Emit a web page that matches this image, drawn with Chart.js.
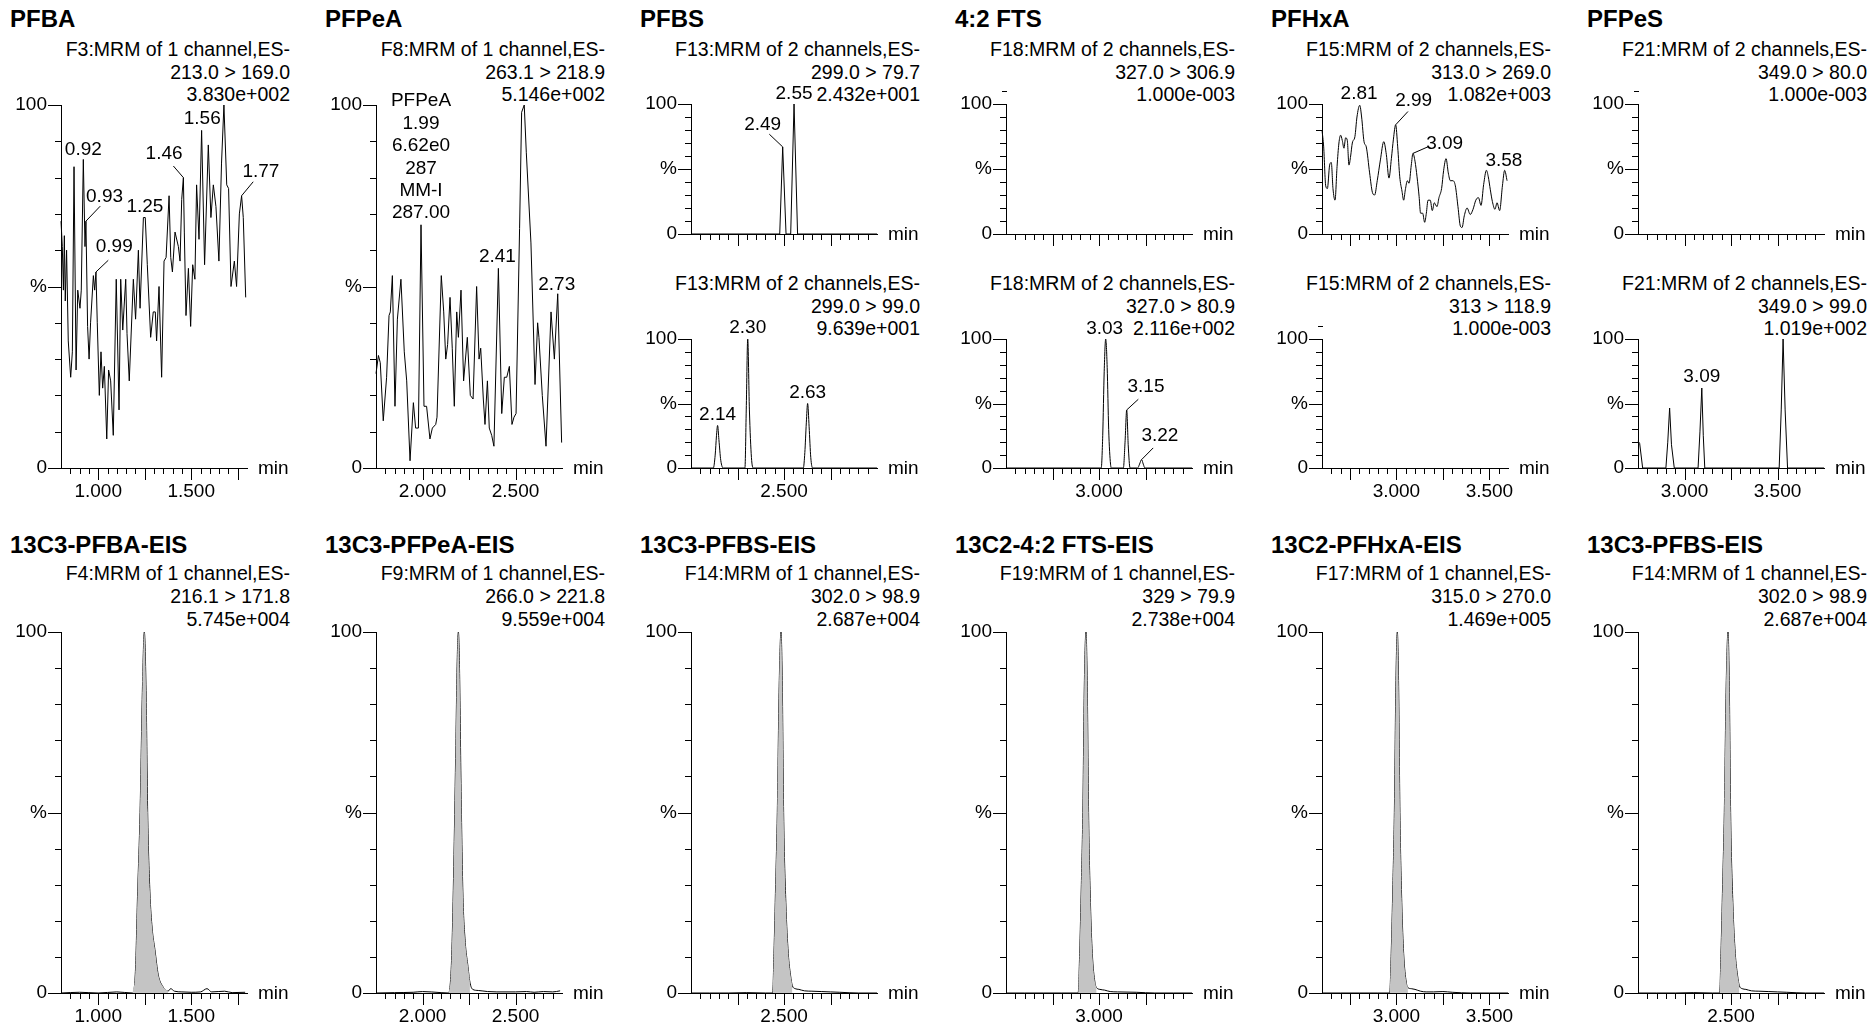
<!DOCTYPE html>
<html>
<head>
<meta charset="utf-8">
<script src="https://cdn.jsdelivr.net/npm/chart.js@4.4.1/dist/chart.umd.min.js"></script>
<style>
body { margin:0; background:#fff; width:1870px; height:1026px; position:relative; overflow:hidden;
       font-family:"Liberation Sans", Arial, sans-serif; color:#000; }
.title { position:absolute; font-weight:bold; font-size:24px; line-height:28px; white-space:nowrap; }
.head { position:absolute; font-size:19.5px; text-align:right; white-space:nowrap; width:300px; }
canvas { position:absolute; }
</style>
</head>
<body>
<script>
// ---- data (retention time in min, intensity in %) ----
var pfbaTime = [0.800,0.807,0.813,0.818,0.823,0.830,0.839,0.852,0.861,0.870,0.881,0.890,0.902,0.909,0.920,0.929,0.934,0.943,0.951,0.959,
  0.974,0.981,0.988,0.995,1.006,1.015,1.024,1.033,1.046,1.056,1.067,1.081,1.097,1.112,1.121,1.132,1.141,1.148,1.155,1.167,
  1.189,1.201,1.216,1.225,1.243,1.253,1.264,1.282,1.296,1.307,1.314,1.327,1.341,1.354,1.365,1.381,1.390,1.399,1.413,1.431,
  1.440,1.449,1.458,1.463,1.472,1.485,1.497,1.508,1.520,1.529,1.542,1.556,1.572,1.592,1.606,1.619,1.633,1.649,1.663,1.676,
  1.691,1.701,1.714,1.732,1.744,1.759,1.771,1.780,1.793];
var pfbaPct = [68,61,49,64,46,60,35,25,32,83,27,49,44,49,85,61,68,39,30,40,
  53,49,54,40,20,32,22,28,8,27,24,9,52,16,52,38,46,52,37,24,
  52,41,60,44,69,69,56,36,43,43,35,50,25,57,58,75,58,54,65,61,
  57,74,80,65,42,55,39,56,52,78,63,93,56,89,69,78,72,57,84,100,
  78,77,50,57,50,70,75,69,47];
var pfbaPeakTimes = [0.920, 0.934, 0.988, 1.243, 1.458, 1.556, 1.771];
var pfbaPeakLabels = ['0.92', '0.93', '0.99', '1.25', '1.46', '1.56', '1.77'];

var pfpeaTime = [1.750,1.763,1.773,1.789,1.807,1.820,1.827,1.838,1.852,1.865,1.884,1.902,1.915,1.933,1.951,1.963,1.978,1.992,2.008,2.022,
  2.040,2.053,2.071,2.078,2.101,2.114,2.125,2.135,2.148,2.160,2.171,2.184,2.193,2.207,2.221,2.241,2.257,2.272,2.291,2.304,
  2.313,2.327,2.336,2.349,2.359,2.372,2.384,2.408,2.426,2.440,2.453,2.467,2.481,2.492,2.503,2.522,2.533,2.547,2.558,2.583,
  2.605,2.619,2.626,2.644,2.664,2.691,2.709,2.727,2.748];
var pfpeaPct = [26,31,29,13,25,42,43,53,17,41,52,32,24,2,18,11,11,67,17,17,
  8,11,12,14,53,43,30,34,47,33,17,43,36,49,24,36,20,19,50,30,
  33,19,12,24,11,9,6,55,15,25,25,28,12,14,15,66,98,100,87,62,
  23,40,36,20,6,43,30,48,7];
var pfpeaPeakTimes = [1.992, 2.408, 2.727];
var pfpeaPeakLabels = ['PFPeA\n1.99\n6.62e0\n287\nMM-I\n287.00', '2.41', '2.73'];

var pfbsATime = [2.000, 2.477, 2.493, 2.511, 2.536, 2.554, 2.573, 3.000];
var pfbsAPct  = [0, 0, 67, 0, 0, 100, 0, 0];
var pfbsAPeakTimes = [2.493, 2.554];
var pfbsAPeakLabels = ['2.49', '2.55'];

var pfbsBTime = [2.000, 2.120, 2.130, 2.137, 2.143, 2.150, 2.160, 2.174, 2.290, 2.297, 2.305, 2.314, 2.325, 2.335,
  2.604, 2.612, 2.620, 2.627, 2.635, 2.644, 2.654, 3.000];
var pfbsBPct  = [0, 0, 10, 25, 33, 22, 6, 0, 0, 45, 100, 45, 8, 0,
  0, 12, 35, 50, 32, 8, 0, 0];
var pfbsBPeakTimes = [2.143, 2.305, 2.627];
var pfbsBPeakLabels = ['2.14', '2.30', '2.63'];

var ftsBTime = [2.500, 3.012, 3.020, 3.028, 3.036, 3.044, 3.052, 3.062, 3.068,
  3.131, 3.140, 3.149, 3.157, 3.167, 3.208, 3.218, 3.229, 3.238, 3.247, 3.500];
var ftsBPct  = [0, 0, 25, 75, 100, 78, 30, 3, 0,
  0, 20, 45, 18, 0, 0, 3, 6.5, 3, 0, 0];
var ftsBPeakTimes = [3.036, 3.149, 3.229];
var ftsBPeakLabels = ['3.03', '3.15', '3.22'];

var pfhxaATime = [2.600,2.609,2.620,2.629,2.641,2.650,2.659,2.670,2.681,2.691,
  2.700,2.709,2.718,2.727,2.736,2.745,2.754,2.763,2.777,2.788,
  2.803,2.813,2.826,2.838,2.856,2.871,2.883,2.897,2.914,2.932,
  2.946,2.960,2.973,2.984,2.996,3.007,3.018,3.030,3.039,3.048,
  3.059,3.068,3.080,3.089,3.100,3.111,3.122,3.130,3.141,3.152,
  3.161,3.170,3.182,3.193,3.204,3.218,3.229,3.243,3.254,3.267,
  3.279,3.290,3.304,3.317,3.331,3.344,3.353,3.365,3.380,3.397,
  3.412,3.427,3.441,3.455,3.469,3.484,3.494,3.505,3.516,3.530,
  3.541,3.555,3.570,3.582,3.595];
var pfhxaAPct = [80,67,37,35,53,55,35,26,52,70,
  76,72,66,74,72,53,60,70,75,90,
  99,90,71,67,47,32,30,41,57,71,
  61,43,58,73,84,67,44,33,26,34,
  41,39,53,62,56,44,29,16,16,9,
  16,26,26,18,24,21,28,35,49,58,
  47,41,41,37,21,6,5,14,20,15,
  19,26,28,22,38,49,44,34,25,19,
  24,18,37,49,41];
var pfhxaAPeakTimes = [2.803, 2.996, 3.089, 3.582];
var pfhxaAPeakLabels = ['2.81', '2.99', '3.09', '3.58'];

var pfpesBTime = [2.750, 2.759, 2.775, 2.900, 2.910, 2.920, 2.930, 2.945, 3.073, 3.083, 3.093, 3.101, 3.109,
  3.509, 3.520, 3.530, 3.541, 3.554, 3.750];
var pfpesBPct  = [21, 19, 0, 0, 20, 46.5, 18, 0, 0, 28, 62, 25, 0,
  0, 45, 100, 45, 0, 0];
var pfpesBPeakTimes = [3.093];
var pfpesBPeakLabels = ['3.09'];

// internal standards (filled area = integration window)
var pfbaEisTime = [0.800,0.900,1.000,1.100,1.185,1.200,1.212,1.225,1.238,1.248,1.258,1.266,1.278,1.290,1.305,1.323,1.345,1.375,
  1.390,1.410,1.450,1.500,1.550,1.585,1.610,1.680,1.720,1.790];
var pfbaEisPct  = [0,0.2,0,0.3,0,6,28,50,85,100,82,50,28,18,12,5,2,0.5,1.2,0.5,0.3,0.2,0.3,1.2,0.3,0.5,0.1,0.2];
var pfbaEisArea = [1.185, 1.375];

var pfpeaEisTime = [1.750,1.850,1.950,2.000,2.100,2.140,2.150,2.158,2.168,2.178,2.187,2.193,2.199,2.207,2.217,2.230,2.243,2.255,
  2.270,2.300,2.350,2.400,2.500,2.560,2.600,2.650,2.700,2.740];
var pfpeaEisPct  = [0,0.1,0.2,0.4,0.1,0,3,12,35,65,93,100,90,58,28,14,8,3,1,0.7,0.4,0.3,0.3,0.4,0.2,0.4,0.3,0.6];
var pfpeaEisArea = [2.140, 2.260];

var pfbsEisTime = [2.000,2.100,2.200,2.300,2.400,2.439,2.446,2.455,2.464,2.474,2.484,2.491,2.498,2.510,2.523,2.535,2.545,
  2.560,2.580,2.610,2.650,2.700,2.750,2.800,2.900,3.000];
var pfbsEisPct  = [0,0,0,0.1,0,0,11,30,50,85,100,85,50,25,11,5,2,1.2,1,0.6,0.5,0.4,0.3,0.2,0,0];
var pfbsEisArea = [2.439, 2.550];

var ftsEisTime = [2.500,2.600,2.700,2.800,2.888,2.896,2.905,2.913,2.921,2.930,2.937,2.944,2.954,2.964,2.978,2.987,
  3.005,3.030,3.060,3.100,3.200,3.300,3.400,3.500];
var ftsEisPct  = [0,0,0,0,0,11,30,50,85,100,85,50,25,11,3,1.5,1,0.8,0.4,0.3,0.2,0,0,0];
var ftsEisArea = [2.888, 2.987];

var pfhxaEisTime = [2.600,2.700,2.800,2.900,2.964,2.972,2.981,2.989,2.997,3.005,3.012,3.019,3.029,3.039,3.053,3.062,
  3.080,3.100,3.130,3.160,3.200,3.250,3.300,3.400,3.500,3.600];
var pfhxaEisPct  = [0,0,0,0,0,11,30,50,85,100,85,50,25,11,3,1.5,1.2,1,0.5,0.3,0.3,0.4,0.2,0,0,0];
var pfhxaEisArea = [2.964, 3.062];

// x ranges and labelled ticks
var pfbaRange = [0.80, 1.80], pfbaTicks = [1.0, 1.5];
var pfpeaRange = [1.75, 2.75], pfpeaTicks = [2.0, 2.5];
var pfbsRange = [2.00, 3.00], pfbsTicks = [2.5];
var ftsRange = [2.50, 3.50], ftsTicks = [3.0];
var pfhxaRange = [2.60, 3.60], pfhxaTicks = [3.0, 3.5];
var pfpesRange = [2.75, 3.75], pfpesTicks = [3.0, 3.5];

// ---- layout / style ----
var colX = [0, 315, 630, 945, 1261, 1577];
var kinds = {
  tall:  { top: 105, bottom: 468 },
  upper: { top: 104, bottom: 234 },
  lower: { top: 339, bottom: 468 },
  eis:   { top: 632, bottom: 993 }
};
// label offsets from the peak apex: [dx, dy, leaderDx, leaderDy]
var pfbaOffsets = [[0,-10], [18.6,-24.4,14.3,-15], [18.3,-25,12.3,-11.7], [1.5,-11], [-19.3,-24.3,-10,-11.6], [0.6,-12], [19.3,-24.4,11.6,-14]];
var pfbsAOffsets = [[-20,-21.7,-13.4,-12.7], [0,-10]];
var ftsBOffsets = [[-1,-10.5], [19.3,-23.4,11.6,-10.7], [18.3,-24,11.6,-11.7]];
var pfhxaAOffsets = [[-0.7,-11.7], [18,-24,12.3,-13.3], [31.7,-9.3,15,-6.6], [-0.7,-10]];

var FONT = '"Liberation Sans", Arial, sans-serif';
Chart.defaults.font.family = FONT;
Chart.defaults.color = '#000';

function addDiv(cls, left, top, lines, lh) {
  var d = document.createElement('div');
  d.className = cls;
  d.style.left = left + 'px';
  d.style.top = top + 'px';
  if (lh) d.style.lineHeight = lh + 'px';
  lines.forEach(function (s, i) {
    if (i) d.appendChild(document.createElement('br'));
    d.appendChild(document.createTextNode(s));
  });
  document.body.appendChild(d);
}

function nearestIndex(arr, t) {
  var best = 0;
  for (var i = 1; i < arr.length; i++) if (Math.abs(arr[i] - t) < Math.abs(arr[best] - t)) best = i;
  return best;
}

function buildPanel(p) {
  var g = kinds[p.kind];
  var padTop = 40, xAxisH = 42, w = 310;
  var h = g.bottom - g.top + padTop + xAxisH;
  var cv = document.createElement('canvas');
  cv.width = w; cv.height = h;
  cv.style.left = colX[p.col] + 'px';
  cv.style.top = (g.top - padTop) + 'px';
  document.body.appendChild(cv);

  var time = p.time || [], pct = p.pct || [];
  var pts = time.map(function (t, i) { return { x: t, y: pct[i] }; });
  var datasets = [];
  if (p.area) {
    datasets.push({
      data: pts.filter(function (pt) { return pt.x >= p.area[0] && pt.x <= p.area[1]; }),
      fill: 'origin', backgroundColor: '#c4c4c4', borderColor: 'rgba(0,0,0,0)', borderWidth: 1,
      pointRadius: 0, cubicInterpolationMode: 'monotone', clip: false
    });
  }
  datasets.push({
    data: pts, borderColor: '#000', borderWidth: 1, pointRadius: 0, fill: false,
    cubicInterpolationMode: p.smooth ? 'monotone' : 'default', clip: false
  });

  var decor = {
    id: 'decor',
    afterDraw: function (chart) {
      var ctx = chart.ctx, xs = chart.scales.x, ys = chart.scales.y, a = chart.chartArea;
      ctx.save();
      ctx.strokeStyle = '#000';
      ctx.lineWidth = 1;
      ctx.beginPath();
      for (var v = 0; v <= 100; v += 10) {
        var py = Math.round(ys.getPixelForValue(v)) + 0.5;
        var len = (v % 50 === 0) ? 13 : 6;
        ctx.moveTo(a.left - len, py); ctx.lineTo(a.left + 1, py);
      }
      if (p.empty) {
        var pe = Math.round(ys.getPixelForValue(110)) + 0.5;
        ctx.moveTo(a.left - 4, pe); ctx.lineTo(a.left + 1, pe);
      }
      var n = Math.round((xs.max - xs.min) / 0.05);
      for (var k = 1; k < n; k++) {
        var t = xs.min + k * 0.05;
        var px = Math.round(xs.getPixelForValue(t)) + 0.5;
        var major = Math.abs(t / 0.25 - Math.round(t / 0.25)) < 1e-6;
        ctx.moveTo(px, a.bottom); ctx.lineTo(px, a.bottom + (major ? 12 : 6));
      }
      ctx.stroke();

      ctx.fillStyle = '#000';
      ctx.font = '19px ' + FONT;
      ctx.textBaseline = 'middle';
      ctx.textAlign = 'left';
      ctx.fillText('min', a.right + 11, a.bottom + 1);

      ctx.textAlign = 'center';
      (p.peakTimes || []).forEach(function (pt, i) {
        var idx = nearestIndex(time, pt);
        var x0 = xs.getPixelForValue(time[idx]), y0 = ys.getPixelForValue(pct[idx]);
        var off = (p.offsets && p.offsets[i]) || [0, -11];
        var lines = p.peakLabels[i].split('\n');
        lines.forEach(function (s, j) {
          ctx.fillText(s, x0 + off[0], y0 + off[1] - (lines.length - 1 - j) * 22.4);
        });
        if (off.length > 2) {
          ctx.beginPath();
          ctx.moveTo(x0, y0);
          ctx.lineTo(x0 + off[2], y0 + off[3]);
          ctx.stroke();
        }
      });
      ctx.restore();
    }
  };

  new Chart(cv, {
    type: 'line',
    data: { datasets: datasets },
    options: {
      responsive: false,
      maintainAspectRatio: false,
      animation: false,
      events: [],
      layout: { padding: { top: padTop, right: w - 247, left: 0, bottom: 0 } },
      plugins: { legend: { display: false }, tooltip: { enabled: false } },
      scales: {
        x: {
          type: 'linear', min: p.range[0], max: p.range[1],
          afterFit: function (s) { s.height = xAxisH; },
          afterBuildTicks: function (s) {
            s.ticks = (p.ticks || []).map(function (v) { return { value: v }; });
          },
          grid: { display: false, drawTicks: false },
          border: { color: '#000', width: 1 },
          ticks: {
            display: !!p.ticks, padding: 12, maxRotation: 0, autoSkip: false,
            font: { size: 19 }, color: '#000',
            callback: function (v) { return Number(v).toFixed(3); }
          }
        },
        y: {
          min: 0, max: 100,
          afterFit: function (s) { s.width = 61; },
          afterBuildTicks: function (s) {
            s.ticks = [0, 50, 100].map(function (v) { return { value: v }; });
          },
          grid: { display: false, drawTicks: false },
          border: { color: '#000', width: 1 },
          ticks: {
            padding: 14, font: { size: 19 }, color: '#000',
            callback: function (v) { return v === 100 ? '100' : (v === 50 ? '%' : (v === 0 ? '0' : '')); }
          }
        }
      }
    },
    plugins: [decor]
  });
}

// ---- titles and headers ----
var topTitles = ['PFBA', 'PFPeA', 'PFBS', '4:2 FTS', 'PFHxA', 'PFPeS'];
var bottomTitles = ['13C3-PFBA-EIS', '13C3-PFPeA-EIS', '13C3-PFBS-EIS', '13C2-4:2 FTS-EIS', '13C2-PFHxA-EIS', '13C3-PFBS-EIS'];
var upperHeads = [
  ['F3:MRM of 1 channel,ES-', '213.0 > 169.0', '3.830e+002'],
  ['F8:MRM of 1 channel,ES-', '263.1 > 218.9', '5.146e+002'],
  ['F13:MRM of 2 channels,ES-', '299.0 > 79.7', '2.432e+001'],
  ['F18:MRM of 2 channels,ES-', '327.0 > 306.9', '1.000e-003'],
  ['F15:MRM of 2 channels,ES-', '313.0 > 269.0', '1.082e+003'],
  ['F21:MRM of 2 channels,ES-', '349.0 > 80.0', '1.000e-003']
];
var lowerHeads = [null, null,
  ['F13:MRM of 2 channels,ES-', '299.0 > 99.0', '9.639e+001'],
  ['F18:MRM of 2 channels,ES-', '327.0 > 80.9', '2.116e+002'],
  ['F15:MRM of 2 channels,ES-', '313 > 118.9', '1.000e-003'],
  ['F21:MRM of 2 channels,ES-', '349.0 > 99.0', '1.019e+002']
];
var eisHeads = [
  ['F4:MRM of 1 channel,ES-', '216.1 > 171.8', '5.745e+004'],
  ['F9:MRM of 1 channel,ES-', '266.0 > 221.8', '9.559e+004'],
  ['F14:MRM of 1 channel,ES-', '302.0 > 98.9', '2.687e+004'],
  ['F19:MRM of 1 channel,ES-', '329 > 79.9', '2.738e+004'],
  ['F17:MRM of 1 channel,ES-', '315.0 > 270.0', '1.469e+005'],
  ['F14:MRM of 1 channel,ES-', '302.0 > 98.9', '2.687e+004']
];

colX.forEach(function (x, c) {
  addDiv('title', x + 10, 5, [topTitles[c]]);
  addDiv('head', x - 10, 38, upperHeads[c], 22.5);
  if (lowerHeads[c]) addDiv('head', x - 10, 272, lowerHeads[c], 22.5);
  addDiv('title', x + 10, 531, [bottomTitles[c]]);
  addDiv('head', x - 10, 562, eisHeads[c], 23);
});

// ---- panels ----
var panels = [
  { col: 0, kind: 'tall', range: pfbaRange, ticks: pfbaTicks, time: pfbaTime, pct: pfbaPct,
    peakTimes: pfbaPeakTimes, peakLabels: pfbaPeakLabels, offsets: pfbaOffsets },
  { col: 1, kind: 'tall', range: pfpeaRange, ticks: pfpeaTicks, time: pfpeaTime, pct: pfpeaPct,
    peakTimes: pfpeaPeakTimes, peakLabels: pfpeaPeakLabels, offsets: [[0,-11.7], [-1,-11.7], [-1,-9]] },
  { col: 2, kind: 'upper', range: pfbsRange, time: pfbsATime, pct: pfbsAPct,
    peakTimes: pfbsAPeakTimes, peakLabels: pfbsAPeakLabels, offsets: pfbsAOffsets },
  { col: 2, kind: 'lower', range: pfbsRange, ticks: pfbsTicks, time: pfbsBTime, pct: pfbsBPct, smooth: true,
    peakTimes: pfbsBPeakTimes, peakLabels: pfbsBPeakLabels },
  { col: 3, kind: 'upper', range: ftsRange, empty: true },
  { col: 3, kind: 'lower', range: ftsRange, ticks: ftsTicks, time: ftsBTime, pct: ftsBPct, smooth: true,
    peakTimes: ftsBPeakTimes, peakLabels: ftsBPeakLabels, offsets: ftsBOffsets },
  { col: 4, kind: 'upper', range: pfhxaRange, time: pfhxaATime, pct: pfhxaAPct, smooth: true,
    peakTimes: pfhxaAPeakTimes, peakLabels: pfhxaAPeakLabels, offsets: pfhxaAOffsets },
  { col: 4, kind: 'lower', range: pfhxaRange, ticks: pfhxaTicks, empty: true },
  { col: 5, kind: 'upper', range: pfpesRange, empty: true },
  { col: 5, kind: 'lower', range: pfpesRange, ticks: pfpesTicks, time: pfpesBTime, pct: pfpesBPct,
    peakTimes: pfpesBPeakTimes, peakLabels: pfpesBPeakLabels },
  { col: 0, kind: 'eis', range: pfbaRange, ticks: pfbaTicks, time: pfbaEisTime, pct: pfbaEisPct, area: pfbaEisArea, smooth: true },
  { col: 1, kind: 'eis', range: pfpeaRange, ticks: pfpeaTicks, time: pfpeaEisTime, pct: pfpeaEisPct, area: pfpeaEisArea, smooth: true },
  { col: 2, kind: 'eis', range: pfbsRange, ticks: pfbsTicks, time: pfbsEisTime, pct: pfbsEisPct, area: pfbsEisArea, smooth: true },
  { col: 3, kind: 'eis', range: ftsRange, ticks: ftsTicks, time: ftsEisTime, pct: ftsEisPct, area: ftsEisArea, smooth: true },
  { col: 4, kind: 'eis', range: pfhxaRange, ticks: pfhxaTicks, time: pfhxaEisTime, pct: pfhxaEisPct, area: pfhxaEisArea, smooth: true },
  { col: 5, kind: 'eis', range: pfbsRange, ticks: pfbsTicks, time: pfbsEisTime, pct: pfbsEisPct, area: pfbsEisArea, smooth: true }
];
panels.forEach(buildPanel);
</script>
</body>
</html>
